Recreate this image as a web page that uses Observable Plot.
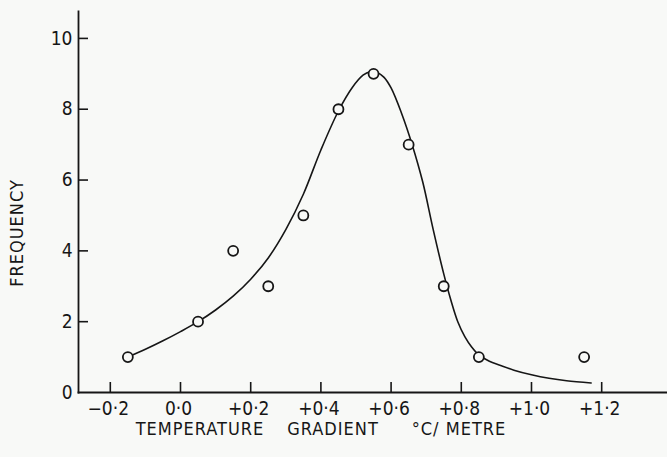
<!DOCTYPE html>
<html>
<head>
<meta charset="utf-8">
<script src="https://cdn.jsdelivr.net/npm/d3@7"></script>
<script src="https://cdn.jsdelivr.net/npm/@observablehq/plot@0.6"></script>
<style>
  html, body { margin: 0; padding: 0; background: #f8f9f7; }
  #chart svg { display: block; background: #f8f9f7; }
</style>
</head>
<body>
<div id="chart"></div>
<script>
// Observed points
const pointX = [-0.15, 0.05, 0.15, 0.25, 0.35, 0.45, 0.55, 0.65, 0.75, 0.85, 1.15];
const pointY = [1, 2, 4, 3, 5, 8, 9, 7, 3, 1, 1];

// Smooth fitted curve
const curveX = [-0.15, -0.10, -0.05, 0.00, 0.05, 0.10, 0.15, 0.20, 0.25, 0.30, 0.35, 0.40, 0.45, 0.49, 0.52, 0.54, 0.56, 0.58, 0.60, 0.63, 0.66, 0.69, 0.72, 0.75, 0.77, 0.79, 0.81, 0.83, 0.85, 0.88, 0.91, 0.95, 1.00, 1.05, 1.10, 1.17];
const curveY = [1.00, 1.22, 1.46, 1.72, 2.00, 2.33, 2.72, 3.20, 3.80, 4.60, 5.60, 6.85, 7.95, 8.62, 8.96, 9.06, 9.04, 8.90, 8.60, 7.88, 7.00, 5.95, 4.60, 3.35, 2.62, 2.00, 1.58, 1.28, 1.06, 0.88, 0.77, 0.63, 0.50, 0.40, 0.33, 0.27];

// Axis ticks and labels
const xTicks = [-0.2, 0.0, 0.2, 0.4, 0.6, 0.8, 1.0, 1.2];
const xTickLabels = ["−0·2", "0·0", "+0·2", "+0·4", "+0·6", "+0·8", "+1·0", "+1·2"];
const yTickMarks = [2, 4, 6, 8, 10];
const yTickLabelValues = [0, 2, 4, 6, 8, 10];
const yTickLabels = ["0", "2", "4", "6", "8", "10"];

const xTitleWords = ["TEMPERATURE", "GRADIENT", "°C/ METRE"];
const yTitle = "FREQUENCY";

const points = pointX.map((x, i) => ({x, y: pointY[i]}));
const curve = curveX.map((x, i) => ({x, y: curveY[i]}));
const xLabelData = xTicks.map((v, i) => ({v, t: xTickLabels[i]}));
const yLabelData = yTickLabelValues.map((v, i) => ({v, t: yTickLabels[i]}));

const W = 667, H = 457;
const mL = 78, mR = 0, mT = 11, mB = 65;
const frameW = W - mL - mR, frameH = H - mT - mB;
const ink = "#161616";
const bg = "#f8f9f7";
const font = "DejaVu Sans Condensed";

const chart = Plot.plot({
  width: W,
  height: H,
  marginLeft: mL,
  marginRight: mR,
  marginTop: mT,
  marginBottom: mB,
  style: {background: bg, fontFamily: font, color: ink},
  x: {domain: [-0.2906, 1.3875], axis: null},
  y: {domain: [0, 10.76], axis: null},
  marks: [
    // axis lines
    Plot.frame({anchor: "left", stroke: ink, strokeWidth: 1.8}),
    Plot.frame({anchor: "bottom", stroke: ink, strokeWidth: 1.8}),
    // inward tick marks
    Plot.ruleY(yTickMarks, {y: d => d, insetRight: frameW - 10, stroke: ink, strokeWidth: 1.6}),
    Plot.ruleX(xTicks, {x: d => d, insetTop: frameH - 10, stroke: ink, strokeWidth: 1.6}),
    // tick labels
    Plot.text(yLabelData, {y: "v", text: "t", frameAnchor: "left", textAnchor: "end", dx: -6, fontSize: 19, fill: ink}),
    Plot.text(xLabelData, {x: "v", text: "t", frameAnchor: "bottom", lineAnchor: "top", dy: 9, dx: -2, fontSize: 19, fill: ink}),
    // fitted curve
    Plot.line(curve, {x: "x", y: "y", curve: "catmull-rom", stroke: ink, strokeWidth: 1.6}),
    // observed points
    Plot.dot(points, {x: "x", y: "y", r: 5, stroke: ink, strokeWidth: 1.8, fill: bg})
  ]
});

// Axis titles
const svg = d3.select(chart);
const titleCentres = [200, 333, 459];
xTitleWords.forEach((w, i) => {
  svg.append("text")
    .attr("x", titleCentres[i])
    .attr("y", 435)
    .attr("text-anchor", "middle")
    .attr("font-family", font)
    .attr("font-size", 18)
    .attr("letter-spacing", 1)
    .attr("fill", ink)
    .text(w);
});
svg.append("text")
  .attr("transform", "translate(23,233) rotate(-90)")
  .attr("text-anchor", "middle")
  .attr("font-family", font)
  .attr("font-size", 18)
  .attr("letter-spacing", 1)
  .attr("fill", ink)
  .text(yTitle);

document.getElementById("chart").appendChild(chart);
</script>
</body>
</html>
